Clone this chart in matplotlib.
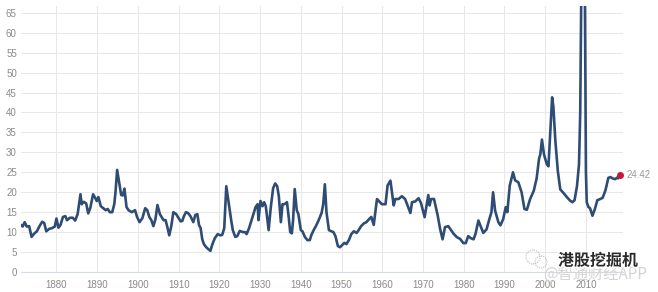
import matplotlib
matplotlib.use("Agg")
import matplotlib.pyplot as plt
import matplotlib.patheffects as pe
from matplotlib.patches import Ellipse

# ---------------- data ----------------
years = [
    1871.3, 1871.7, 1872.2, 1872.7, 1873.3, 1873.9, 1874.5, 1875.2, 1875.9, 1876.5,
    1877.0, 1877.5, 1878.2, 1878.9, 1879.6, 1880.0, 1880.5, 1881.0, 1881.6, 1882.2,
    1882.6, 1883.3, 1884.0, 1884.6, 1885.2, 1885.9, 1886.2, 1886.7, 1887.3, 1887.8,
    1888.3, 1889.0, 1889.5, 1889.9, 1890.3, 1890.9, 1891.5, 1892.1, 1892.6, 1893.1,
    1893.7, 1894.2, 1894.5, 1894.9, 1895.4, 1895.9, 1896.3, 1896.7, 1897.2, 1897.7,
    1898.5, 1899.3, 1899.8, 1900.4, 1901.1, 1901.8, 1902.3, 1902.8, 1903.3, 1903.8,
    1904.3, 1904.8, 1905.4, 1906.3, 1906.8, 1907.2, 1907.7, 1908.2, 1908.7, 1909.4,
    1910.0, 1910.5, 1910.9, 1911.3, 1911.8, 1912.3, 1912.9, 1913.6, 1914.1, 1914.6,
    1915.0, 1915.4, 1915.8, 1916.2, 1916.7, 1917.2, 1917.8, 1918.3, 1918.9, 1919.6,
    1920.2, 1920.7, 1921.2, 1921.7, 1922.2, 1922.9, 1923.3, 1923.9, 1924.4, 1925.0,
    1925.8, 1926.3, 1926.7, 1927.3, 1927.9, 1928.5, 1928.9, 1929.4, 1929.6, 1930.1,
    1930.6, 1931.0, 1931.4, 1932.1, 1932.6, 1933.2, 1933.7, 1934.2, 1934.6, 1935.1,
    1935.5, 1936.0, 1936.6, 1937.0, 1937.4, 1937.8, 1938.1, 1938.5, 1939.0, 1939.4,
    1940.0, 1940.4, 1941.0, 1941.6, 1942.2, 1942.6, 1943.3, 1943.7, 1944.3, 1944.7,
    1945.1, 1945.5, 1945.9, 1946.3, 1946.9, 1947.3, 1948.0, 1948.5, 1949.1, 1949.6,
    1950.2, 1950.7, 1951.2, 1951.8, 1952.4, 1953.0, 1953.7, 1954.2, 1954.8, 1955.5,
    1956.1, 1956.7, 1957.3, 1957.9, 1958.7, 1959.9, 1960.8, 1961.3, 1962.0, 1962.8,
    1963.2, 1964.0, 1964.8, 1965.6, 1966.2, 1966.9, 1967.3, 1968.1, 1968.9, 1969.5,
    1970.4, 1971.3, 1971.6, 1972.0, 1972.7, 1973.6, 1974.2, 1974.8, 1975.4, 1976.2,
    1977.5, 1978.3, 1979.1, 1979.9, 1980.5, 1981.1, 1981.7, 1982.4, 1982.9, 1983.6,
    1984.4, 1984.8, 1985.6, 1986.3, 1986.8, 1987.2, 1987.7, 1988.5, 1989.0, 1989.7,
    1990.3, 1990.7, 1991.3, 1992.1, 1992.6, 1993.4, 1994.2, 1994.9, 1995.5, 1996.3,
    1997.2, 1997.9, 1998.5, 1998.8, 1999.2, 1999.7, 2000.4, 2000.8, 2001.7, 2002.0,
    2002.5, 2003.1, 2003.7, 2004.5, 2005.3, 2006.1, 2006.7, 2007.2, 2007.8, 2008.3,
    2008.6, 2008.9, 2009.3, 2009.6, 2009.8, 2010.0, 2010.2, 2010.6, 2011.0, 2011.6,
    2012.2, 2012.8, 2013.5, 2014.1, 2014.8, 2015.5, 2016.0, 2016.7, 2017.2, 2017.7,
    2017.9, 2018.3,
]
pe_ratio = [
    11.8, 11.4, 12.5, 11.4, 11.5, 8.8, 9.6, 10.2, 11.6, 12.6,
    12.3, 10.2, 10.8, 11.0, 11.4, 13.4, 11.1, 11.8, 13.8, 14.0,
    13.0, 13.6, 13.6, 12.9, 14.5, 19.5, 17.0, 17.6, 17.2, 14.7,
    16.0, 19.5, 18.6, 17.8, 18.8, 16.5, 16.0, 15.5, 15.8, 15.0,
    15.0, 17.0, 20.0, 25.6, 22.5, 19.3, 19.2, 20.9, 16.3, 15.5,
    15.0, 15.5, 13.8, 12.5, 13.5, 16.0, 15.5, 13.8, 13.0, 11.5,
    13.2, 16.8, 14.5, 13.0, 13.0, 11.4, 9.2, 11.5, 15.0, 14.5,
    13.5, 12.7, 12.8, 14.0, 15.0, 14.8, 14.0, 12.5, 14.3, 14.5,
    11.8, 11.0, 8.2, 7.0, 6.3, 5.8, 5.3, 7.0, 8.5, 9.5,
    9.2, 9.3, 11.0, 21.5, 18.0, 13.0, 10.5, 8.8, 9.0, 10.3,
    10.0, 10.0, 9.5, 11.0, 13.0, 15.0, 16.3, 17.0, 13.0, 17.8,
    16.5, 17.5, 16.5, 10.5, 16.0, 21.0, 22.2, 21.5, 19.0, 12.5,
    17.0, 17.0, 17.5, 14.0, 10.0, 9.7, 13.0, 20.8, 15.5, 14.5,
    10.5, 10.2, 8.8, 8.0, 8.0, 9.3, 10.8, 11.5, 12.8, 13.8,
    14.8, 17.0, 22.0, 15.0, 10.5, 10.3, 10.0, 9.0, 6.5, 6.2,
    6.8, 7.3, 7.0, 8.0, 9.5, 10.2, 9.8, 10.5, 11.5, 12.2,
    12.5, 13.2, 13.8, 11.8, 18.3, 17.0, 17.0, 21.7, 22.9, 16.7,
    18.3, 18.3, 19.0, 18.3, 16.7, 14.8, 17.5, 17.7, 18.5, 17.3,
    13.75, 19.3, 16.7, 18.3, 18.3, 14.2, 10.8, 8.2, 11.25, 11.5,
    9.6, 8.75, 8.3, 7.25, 7.25, 9.0, 8.5, 8.2, 9.6, 12.9,
    10.8, 9.8, 10.7, 13.3, 15.0, 20.0, 15.4, 12.5, 11.7, 13.3,
    16.25, 15.0, 21.7, 25.0, 23.0, 22.5, 20.0, 15.8, 15.6, 18.3,
    20.4, 23.5, 28.5, 29.5, 33.2, 29.5, 27.0, 26.5, 43.8, 41.5,
    32.8, 25.3, 20.7, 19.8, 18.8, 17.9, 17.5, 18.0, 21.5, 27.0,
    40.0, 75.0, 123.7, 95.0, 60.0, 25.0, 17.5, 16.3, 16.0, 14.1,
    15.8, 18.0, 18.3, 18.6, 20.5, 23.6, 23.8, 23.4, 23.3, 23.7,
    23.5, 24.42,
]
x_ticks = [1880, 1890, 1900, 1910, 1920, 1930, 1940, 1950, 1960, 1970, 1980, 1990, 2000, 2010]
y_ticks = [0, 5, 10, 15, 20, 25, 30, 35, 40, 45, 50, 55, 60, 65]
last_label = "24.42"

# ---------------- figure ----------------
W, H = 658, 292
fig = plt.figure(figsize=(W / 100, H / 100), dpi=100)
fig.patch.set_facecolor("white")
ax = fig.add_axes([21 / W, (H - 272) / H, (623 - 21) / W, (272 - 6) / H])
ax.set_facecolor("white")

ax.plot(years, pe_ratio, color="#2e4c74", lw=1.9, solid_joinstyle="round",
        solid_capstyle="round", zorder=3)
ax.plot([years[-1]], [pe_ratio[-1]], "o", color="#c8163c", ms=5, zorder=4,
        markeredgewidth=0)
ax.annotate(last_label, (years[-1], pe_ratio[-1]), xytext=(5, 0),
            textcoords="offset points", va="center", ha="left",
            color="#999999", fontsize=7, family="Liberation Sans",
            annotation_clip=False)

ax.set_xlim(1871.3, 2019.1)
ax.set_ylim(0, 66.7)
ax.set_xticks(x_ticks)
ax.set_yticks(y_ticks)
ax.grid(True, color="#e8e8e8", lw=0.75, zorder=0)
ax.set_axisbelow(True)
for s in ["top", "right", "left"]:
    ax.spines[s].set_visible(False)
ax.spines["bottom"].set_color("#d5dbe6")
ax.spines["bottom"].set_linewidth(0.8)
ax.tick_params(axis="both", length=0, labelsize=7, labelcolor="#8a8a8a")
ax.tick_params(axis="x", pad=5.5)
ax.tick_params(axis="y", pad=3)
for lab in ax.get_xticklabels() + ax.get_yticklabels():
    lab.set_family("Liberation Sans")

# ---------------- watermark ----------------
fig.text(595 / W, 1 - 274 / H, "@智通财经APP", ha="center", va="center",
         fontsize=11, color="#d4d4d4", family=["Noto Sans CJK SC", "DejaVu Sans"],
         zorder=5)
fig.text(598 / W, 1 - 260.5 / H, "港股挖掘机", ha="center", va="center",
         fontsize=11.5, fontweight="bold", color="#2b2b2b",
         family=["Noto Sans CJK SC", "DejaVu Sans"],
         zorder=6, path_effects=[pe.withStroke(linewidth=2.5, foreground="white")])
for cx, cy, r in [(533, 257, 7), (541, 262, 6)]:
    fig.patches.append(Ellipse((cx / W, 1 - cy / H), 2 * r / W, 2 * r / H,
                               transform=fig.transFigure, fill=False,
                               ec="#bbbbbb", lw=0.8, ls=(0, (1, 1)), zorder=5))

fig.savefig("out.png", dpi=100, facecolor="white")
